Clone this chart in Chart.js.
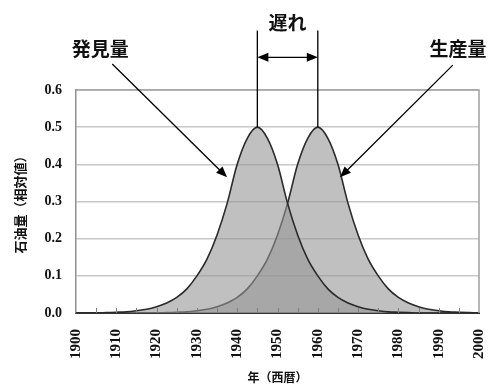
<!DOCTYPE html>
<html>
<head>
<meta charset="utf-8">
<script src="https://cdn.jsdelivr.net/npm/chart.js@4"></script>
<style>
  html, body { margin: 0; padding: 0; background: #fff; }
  #wrap { width: 492px; height: 387px; }
</style>
</head>
<body>
<div id="wrap"><canvas id="chart"></canvas></div>
<script>
// years (every 2.5 years)
const years = [1900, 1902.5, 1905, 1907.5, 1910, 1912.5, 1915, 1917.5, 1920, 1922.5,
  1925, 1927.5, 1930, 1932.5, 1935, 1937.5, 1940, 1942.5, 1945, 1947.5,
  1950, 1952.5, 1955, 1957.5, 1960, 1962.5, 1965, 1967.5, 1970, 1972.5,
  1975, 1977.5, 1980, 1982.5, 1985, 1987.5, 1990, 1992.5, 1995, 1997.5, 2000];

// 発見量 (discovery)
const discovery = [0, 0, 0, 0.001, 0.002, 0.003, 0.006, 0.01, 0.017, 0.027,
  0.042, 0.065, 0.1, 0.145, 0.21, 0.295, 0.4, 0.47, 0.5, 0.47,
  0.4, 0.295, 0.21, 0.145, 0.1, 0.065, 0.042, 0.027, 0.017, 0.01,
  0.006, 0.003, 0.002, 0.001, 0, 0, 0, 0, 0, 0, 0];

// 生産量 (production)
const production = [0, 0, 0, 0, 0, 0, 0, 0, 0, 0.001,
  0.002, 0.003, 0.006, 0.01, 0.017, 0.027, 0.042, 0.065, 0.1, 0.145,
  0.21, 0.295, 0.4, 0.47, 0.5, 0.47, 0.4, 0.295, 0.21, 0.145,
  0.1, 0.065, 0.042, 0.027, 0.017, 0.01, 0.006, 0.003, 0.002, 0.001, 0];

const yTicks = [0, 0.1, 0.2, 0.3, 0.4, 0.5, 0.6];
const xLabelYears = [1900, 1910, 1920, 1930, 1940, 1950, 1960, 1970, 1980, 1990, 2000];

const labelFont = 'bold 19px "Noto Sans CJK JP"';

function arrowHead(ctx, x1, y1, x2, y2) {
  const a = Math.atan2(y2 - y1, x2 - x1);
  const len = 11, hw = 4.5;
  ctx.beginPath();
  ctx.moveTo(x2, y2);
  ctx.lineTo(x2 - len * Math.cos(a) + hw * Math.sin(a), y2 - len * Math.sin(a) - hw * Math.cos(a));
  ctx.lineTo(x2 - len * Math.cos(a) - hw * Math.sin(a), y2 - len * Math.sin(a) + hw * Math.cos(a));
  ctx.closePath();
  ctx.fill();
}

function arrow(ctx, x1, y1, x2, y2) {
  const a = Math.atan2(y2 - y1, x2 - x1);
  ctx.beginPath();
  ctx.moveTo(x1, y1);
  ctx.lineTo(x2 - 8 * Math.cos(a), y2 - 8 * Math.sin(a));
  ctx.stroke();
  arrowHead(ctx, x1, y1, x2, y2);
}

const annot = {
  id: 'annot',
  afterDatasetsDraw(chart) {
    const { ctx, chartArea: ca, scales: { x, y } } = chart;
    ctx.save();

    // small ticks inside along the bottom, every 5 years
    ctx.strokeStyle = '#808080';
    ctx.lineWidth = 1;
    for (let yr = 1905; yr < 2000; yr += 5) {
      const px = Math.round(x.getPixelForValue(yr)) + 0.5;
      ctx.beginPath();
      ctx.moveTo(px, ca.bottom);
      ctx.lineTo(px, ca.bottom - 5);
      ctx.stroke();
    }

    // plot frame
    ctx.strokeStyle = '#a0a0a0';
    ctx.lineWidth = 1.5;
    ctx.beginPath();
    ctx.moveTo(ca.left, ca.top);
    ctx.lineTo(ca.right, ca.top);
    ctx.lineTo(ca.right, ca.bottom);
    ctx.stroke();

    ctx.strokeStyle = '#000';
    ctx.fillStyle = '#000';
    ctx.lineWidth = 1.3;

    // 遅れ: verticals from each peak, double arrow between
    const p1 = discovery.indexOf(Math.max(...discovery));
    const p2 = production.indexOf(Math.max(...production));
    const xa = x.getPixelForValue(years[p1]);
    const xb = x.getPixelForValue(years[p2]);
    const yTop = y.getPixelForValue(0.76);
    ctx.beginPath();
    ctx.moveTo(xa, y.getPixelForValue(discovery[p1]));
    ctx.lineTo(xa, yTop);
    ctx.moveTo(xb, y.getPixelForValue(production[p2]));
    ctx.lineTo(xb, yTop);
    ctx.stroke();
    const ya = y.getPixelForValue(0.688);
    ctx.beginPath();
    ctx.moveTo(xa + 8, ya);
    ctx.lineTo(xb - 8, ya);
    ctx.stroke();
    arrowHead(ctx, xb, ya, xa, ya);
    arrowHead(ctx, xa, ya, xb, ya);

    // 発見量 arrow
    arrow(ctx, x.getPixelForValue(1909), y.getPixelForValue(0.67),
      x.getPixelForValue(1937.5), y.getPixelForValue(0.365));
    // 生産量 arrow
    arrow(ctx, x.getPixelForValue(1993.5), y.getPixelForValue(0.667),
      x.getPixelForValue(1965.5), y.getPixelForValue(0.365));

    // labels
    ctx.font = labelFont;
    ctx.textAlign = 'center';
    ctx.textBaseline = 'middle';
    ctx.fillStyle = '#111';
    ctx.fillText('発見量', x.getPixelForValue(1906), y.getPixelForValue(0.712));
    ctx.fillText('生産量', x.getPixelForValue(1994.8), y.getPixelForValue(0.712));
    ctx.fillText('遅れ', (xa + xb) / 2, y.getPixelForValue(0.782));

    ctx.restore();
  }
};

const ctx = document.getElementById('chart').getContext('2d');
new Chart(ctx, {
  type: 'line',
  data: {
    datasets: [
      {
        label: '発見量',
        data: years.map((yr, i) => ({ x: yr, y: discovery[i] })),
        borderColor: '#2a2a2a',
        borderWidth: 1.6,
        backgroundColor: 'rgba(150,150,150,0.6)',
        fill: 'origin',
        pointRadius: 0,
        cubicInterpolationMode: 'monotone'
      },
      {
        label: '生産量',
        data: years.map((yr, i) => ({ x: yr, y: production[i] })),
        borderColor: '#2a2a2a',
        borderWidth: 1.6,
        backgroundColor: 'rgba(150,150,150,0.6)',
        fill: 'origin',
        pointRadius: 0,
        cubicInterpolationMode: 'monotone'
      }
    ]
  },
  options: {
    responsive: true,
    maintainAspectRatio: false,
    animation: false,
    layout: { padding: { top: 90, right: 13, left: 0, bottom: 0 } },
    plugins: {
      legend: { display: false },
      tooltip: { enabled: false }
    },
    scales: {
      x: {
        type: 'linear',
        min: 1900,
        max: 2000,
        afterFit: s => { s.height = 74; s.paddingLeft = 0; s.paddingRight = 0; },
        afterBuildTicks: s => { s.ticks = xLabelYears.map(v => ({ value: v })); },
        grid: { display: false },
        border: { display: true, color: '#333', width: 2 },
        ticks: {
          autoSkip: false,
          maxRotation: 90,
          minRotation: 90,
          padding: 8,
          color: '#111',
          font: { family: '"Liberation Serif"', size: 15, weight: 'bold' },
          callback: v => String(v)
        },
        title: {
          display: true,
          text: '年（西暦）',
          color: '#111',
          font: { family: '"Noto Sans CJK JP"', size: 12, weight: 'bold' },
          padding: { top: 0, bottom: 2 }
        }
      },
      y: {
        min: 0,
        max: 0.6,
        afterFit: s => { s.width = 76; s.paddingTop = 0; s.paddingBottom = 0; },
        afterBuildTicks: s => { s.ticks = yTicks.map(v => ({ value: v })); },
        grid: { color: '#c8c8c8', lineWidth: 1.5, drawTicks: false },
        border: { display: true, color: '#909090', width: 1.5 },
        ticks: {
          padding: 14,
          color: '#111',
          font: { family: '"Liberation Serif"', size: 14, weight: 'bold' },
          callback: v => v.toFixed(1)
        },
        title: {
          display: true,
          text: '石油量（相対値）',
          color: '#111',
          font: { family: '"Noto Sans CJK JP"', size: 13, weight: 'bold' },
          padding: { top: 12, bottom: 0 }
        }
      }
    }
  },
  plugins: [annot]
});
</script>
</body>
</html>
